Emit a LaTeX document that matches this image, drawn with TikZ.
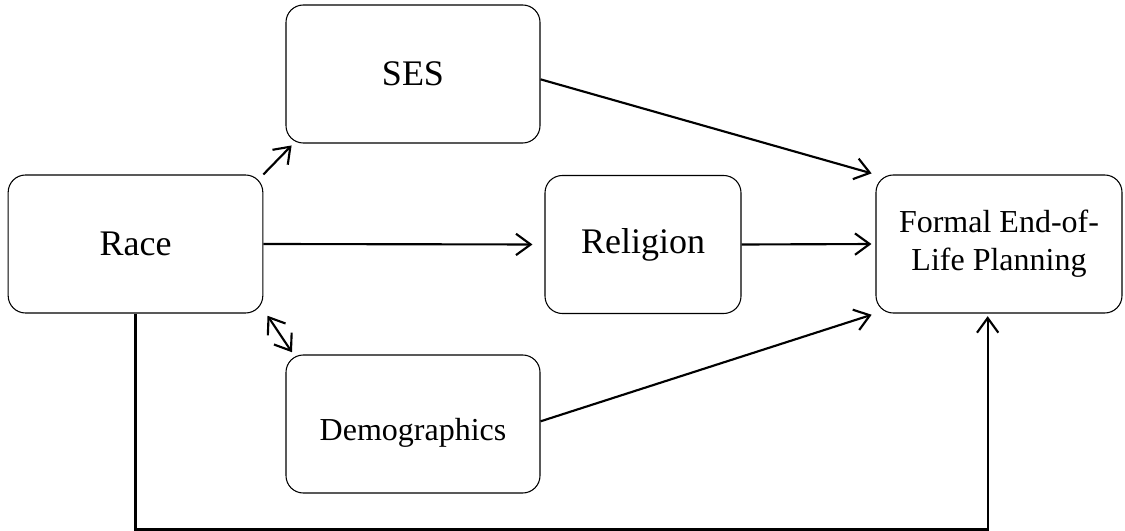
\documentclass[tikz,border=0pt]{standalone}
\usepackage{fontspec}
\setmainfont{Liberation Serif}
\usetikzlibrary{arrows.meta,positioning}

\begin{document}
\begin{tikzpicture}[x=0.75pt,y=-0.75pt]
  \tikzset{box/.style={draw,line width=0.8pt,rounded corners=13pt,inner sep=0pt,align=center,minimum height=103.5pt},
    arr/.style={-{Straight Barb[length=11pt,width=16pt]},line width=1.6pt}}
  \useasboundingbox (0,0) rectangle (1125,531);
  % boxes (pixel coordinates)
  \node[box,minimum width=191pt,font=\fontsize{27}{32}\selectfont] (race) at (135.5,244) {Race};
  \node[box,minimum width=190.5pt,font=\fontsize{27}{32}\selectfont] (ses) at (413,74) {SES};
  \node[box,minimum width=147pt,font=\fontsize{27}{32}\selectfont] (religion) at (643,244.5) {Religion};
  \node[box,minimum width=190.5pt,text height=30pt,text depth=6pt,font=\fontsize{24}{28.5}\selectfont] (demo) at (413,424) {Demographics};
  \node[box,minimum width=184.5pt,font=\fontsize{24}{28.5}\selectfont] (formal) at (999,244) {Formal End-of-\\Life Planning};
  % paths
  \draw[arr,shorten >=2pt] (race.north east) -- ([xshift=6pt]ses.south west);
  \draw[arr,{Straight Barb[length=11pt,width=16pt]}-{Straight Barb[length=11pt,width=16pt]},shorten <=2pt,shorten >=2pt] ([xshift=2pt]race.south east) -- ([xshift=6pt]demo.north west);
  \draw[arr,shorten >=9pt] (race.east) -- (religion.west);
  \draw[arr,shorten >=3pt] ([yshift=-4pt]ses.east) -- (formal.north west);
  \draw[arr,shorten >=3pt] (religion.east) -- (formal.west);
  \draw[arr,shorten >=3pt] ([yshift=2pt]demo.east) -- (formal.south west);
  \draw[arr,shorten >=2pt] (race.south) -- ++(0,216) -| ([xshift=-8.5pt]formal.south);
\end{tikzpicture}
\end{document}
